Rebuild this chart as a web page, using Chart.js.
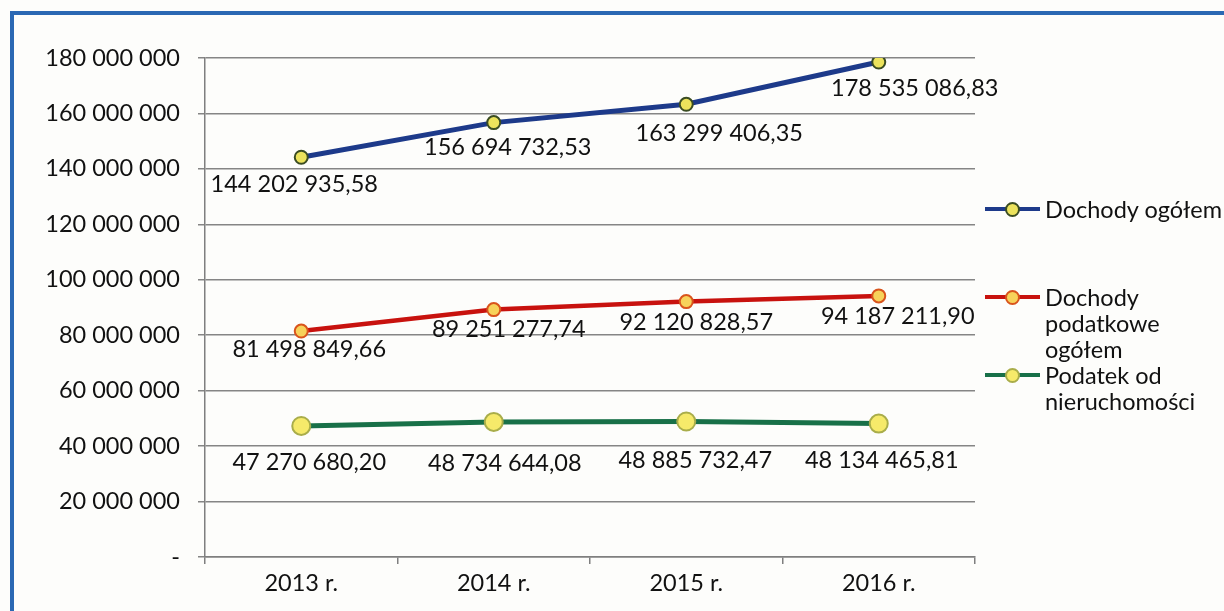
<!DOCTYPE html>
<html>
<head>
<meta charset="utf-8">
<script src="https://cdn.jsdelivr.net/npm/chart.js@4.4.1/dist/chart.umd.min.js"></script>
<style>
    html, body { margin: 0; padding: 0; background: #fdfdfb; }
    body { width: 1224px; height: 611px; position: relative; overflow: hidden; font-family: Lato, 'Open Sans', sans-serif; }
    .frame { position: absolute; left: 10px; top: 11px; width: 1300px; height: 700px;
             border-top: 4px solid #2b68b3; border-left: 4px solid #2b68b3; }
    #wrap { position: absolute; left: 0; top: 0; width: 1224px; height: 611px; }
    .legend { position: absolute; left: 985px; top: 0; color: #111; font-size: 23.5px; line-height: 26px; white-space: nowrap; }
    .legend-item { position: absolute; left: 0; width: 240px; }
    .legend-mark { position: absolute; left: 0; top: 13px; width: 55px; height: 0; }
    .legend-mark .ln { position: absolute; left: 0; top: -2px; width: 55px; height: 4px; }
    .legend-mark .dot { position: absolute; left: 20px; top: -7px; width: 11px; height: 11px; border-radius: 50%; border: 2px solid; }
    .legend-text { margin-left: 60px; }
</style>
</head>
<body>
<div class="frame"></div>
<div id="wrap"><canvas id="chart" width="1224" height="611"></canvas></div>
<div class="legend" id="legend"></div>

<script>
/* Dochody 2013-2016 — line chart */

const years = ['2013 r.', '2014 r.', '2015 r.', '2016 r.'];
const seriesNames = ['Dochody ogółem', 'Dochody podatkowe ogółem', 'Podatek od nieruchomości'];
const legendLines = [['Dochody ogółem'], ['Dochody', 'podatkowe', 'ogółem'], ['Podatek od', 'nieruchomości']];

const dochodyOgolem = [144202935.58, 156694732.53, 163299406.35, 178535086.83];
const dochodyPodatkowe = [81498849.66, 89251277.74, 92120828.57, 94187211.90];
const podatekNieruchomosci = [47270680.20, 48734644.08, 48885732.47, 48134465.81];

const yTicks = [0, 20000000, 40000000, 60000000, 80000000, 100000000, 120000000, 140000000, 160000000, 180000000];

// --- Styles ---

const FONT = 'Lato, "Open Sans", sans-serif';
const FONT_SIZE = 23.5;
const lineColors = ['#1d3a8a', '#c8120e', '#187048'];
const markerBorders = ['#3b4d22', '#d9541c', '#a9ad4a'];
const markerFills = ['#ece35c', '#f7d25a', '#f6ea6a'];
const markerRadius = [6.5, 6.5, 9];
const lineWidths = [5, 4.5, 5];
// label nudges relative to each point (px)
const labelDx = [[-7, 14, 33, 36], [8, 15, 10, 19], [8, 11, 9, 3]];
const labelDy = [[27, 25, 29, 26], [18, 20, 21, 21], [36, 42, 39, 37]];
const legendTop = [196, 284, 362];

// --- Helpers ---

function groupSpaces(s) {
    return s.replace(/\B(?=(\d{3})+(?!\d))/g, ' ');
}

function formatPL(v) {
    const parts = v.toFixed(2).split('.');
    return groupSpaces(parts[0]) + ',' + parts[1];
}

function formatTick(v) {
    if (v === 0) return '-';
    return groupSpaces(String(Math.round(v)));
}

// --- Data labels plugin ---

const pointLabels = {
    id: 'pointLabels',
    afterDatasetsDraw(chart) {
        const ctx = chart.ctx;
        ctx.save();
        ctx.font = FONT_SIZE + 'px ' + FONT;
        ctx.fillStyle = '#111';
        ctx.textAlign = 'center';
        ctx.textBaseline = 'middle';
        chart.data.datasets.forEach((ds, di) => {
            const meta = chart.getDatasetMeta(di);
            meta.data.forEach((pt, i) => {
                ctx.fillText(formatPL(ds.data[i]), pt.x + labelDx[di][i], pt.y + labelDy[di][i]);
            });
        });
        ctx.restore();
    }
};

const seriesData = [dochodyOgolem, dochodyPodatkowe, podatekNieruchomosci];

const datasets = seriesData.map((data, i) => ({
    label: seriesNames[i],
    data,
    borderColor: lineColors[i],
    borderWidth: lineWidths[i],
    backgroundColor: markerFills[i],
    pointBackgroundColor: markerFills[i],
    pointBorderColor: markerBorders[i],
    pointBorderWidth: 2,
    pointRadius: markerRadius[i],
    tension: 0,
    fill: false,
}));

Chart.defaults.font.family = FONT;
Chart.defaults.color = '#111';

new Chart(document.getElementById('chart'), {
    type: 'line',
    data: { labels: years, datasets },
    options: {
        responsive: false,
        animation: false,
        layout: { padding: { left: 20, right: 249, top: 58, bottom: 0 } },
        plugins: {
            legend: { display: false },
            tooltip: { enabled: false },
        },
        scales: {
            x: {
                offset: true,
                grid: { offset: true, drawOnChartArea: false, drawTicks: true, tickLength: 7, color: '#7f7f7f', lineWidth: 1.5 },
                border: { color: '#7f7f7f', width: 1.5 },
                ticks: { font: { size: FONT_SIZE }, color: '#111', padding: 5 },
                afterFit: s => { s.height = 54; },
            },
            y: {
                min: 0,
                max: 180000000,
                afterBuildTicks: s => { s.ticks = yTicks.map(v => ({ value: v })); },
                grid: { color: '#858585', lineWidth: 1.5, tickLength: 7 },
                border: { color: '#7f7f7f', width: 1.5 },
                ticks: { font: { size: FONT_SIZE }, color: '#111', padding: 18, callback: v => formatTick(v) },
                afterFit: s => { s.width = 185; },
            }
        }
    },
    plugins: [pointLabels]
});

// --- Legend ---

const legend = document.getElementById('legend');
legend.innerHTML = seriesNames.map((name, i) => `
    <div class="legend-item" style="top:${legendTop[i]}px">
        <div class="legend-mark">
            <div class="ln" style="background:${lineColors[i]}"></div>
            <div class="dot" style="background:${markerFills[i]}; border-color:${markerBorders[i]}"></div>
        </div>
        <div class="legend-text">${legendLines[i].join('<br>')}</div>
    </div>
`).join('');
</script>
</body>
</html>
